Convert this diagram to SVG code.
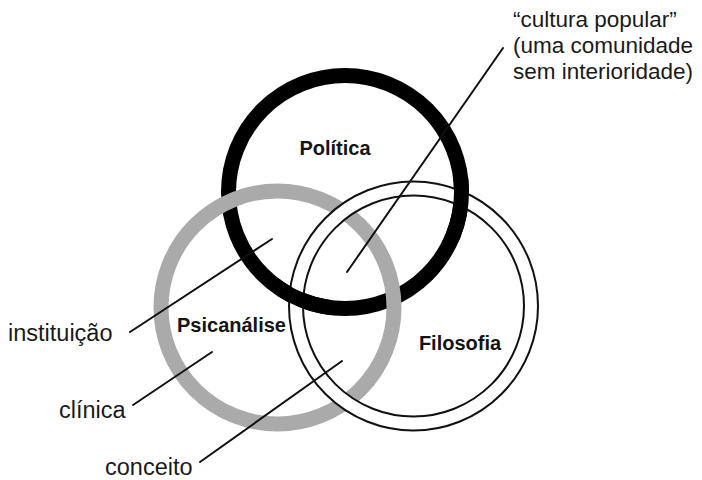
<svg xmlns="http://www.w3.org/2000/svg" width="702" height="480" viewBox="0 0 702 480">
<style>
.ring{fill:none}
.black{stroke:#000;stroke-width:15}
.gray{stroke:#aaaaaa;stroke-width:15}
.band{stroke:#fff;stroke-width:14}
.edge{stroke:#111;stroke-width:2}
.title{font-family:"Liberation Sans",Arial,sans-serif;font-weight:bold;font-size:20px;fill:#141414;text-anchor:middle}
.lbl{font-family:"Liberation Sans",Arial,sans-serif;font-size:23.5px;fill:#1a1a1a}
.note{font-family:"Liberation Sans",Arial,sans-serif;font-size:22.5px;fill:#1a1a1a}
.conn{stroke:#111;stroke-width:2;fill:none;stroke-linecap:round}
</style>
<defs>
<clipPath id="cross">
<rect x="278" y="268" width="52" height="62"/>
<rect x="428" y="176" width="56" height="66"/>
</clipPath>
</defs>
<rect width="702" height="480" fill="#fff"/>
<g id="politica">
<circle class="ring black" cx="345" cy="192" r="116.5"/>
</g>
<g id="psicanalise">
<circle class="ring gray" cx="277.5" cy="307.5" r="116.5"/>
</g>
<g id="filosofia">
<circle class="ring band" cx="413.5" cy="306" r="117.5"/>
<circle class="ring edge" cx="413.5" cy="306" r="124.5"/>
<circle class="ring edge" cx="413.5" cy="306" r="110.5"/>
</g>
<g id="politica-over" clip-path="url(#cross)">
<circle class="ring black" cx="345" cy="192" r="116.5"/>
</g>
<g id="labels-circles">
<text class="title" x="335" y="155">Política</text>
<text class="title" x="231.5" y="332">Psicanálise</text>
<text class="title" x="460" y="350">Filosofia</text>
</g>
<g id="connectors">
<line class="conn" x1="503" y1="48" x2="347" y2="272"/>
<line class="conn" x1="130" y1="332" x2="272" y2="239"/>
<line class="conn" x1="133" y1="405" x2="212" y2="352"/>
<line class="conn" x1="200" y1="462" x2="342" y2="361"/>
</g>
<g id="label-cultura">
<text class="note" x="513" y="27">“cultura popular”</text>
<text class="note" x="513" y="53">(uma comunidade</text>
<text class="note" x="513" y="79">sem interioridade)</text>
</g>
<g id="label-instituicao"><text class="lbl" x="8" y="341">instituição</text></g>
<g id="label-clinica"><text class="lbl" x="59" y="418">clínica</text></g>
<g id="label-conceito"><text class="lbl" x="105" y="475">conceito</text></g>
</svg>
